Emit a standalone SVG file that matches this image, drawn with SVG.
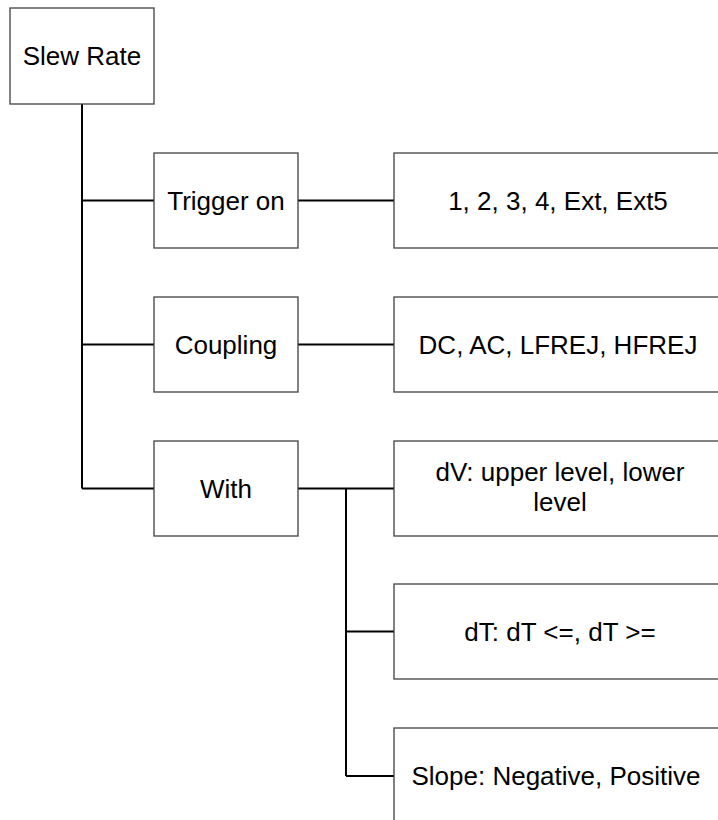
<svg xmlns="http://www.w3.org/2000/svg" width="718" height="820" viewBox="0 0 718 820">
<style>
.box{fill:#fff;stroke:#404040;stroke-width:1.3}
.t{font-family:"Liberation Sans",Arial,sans-serif;font-size:26px;fill:#000;text-anchor:middle}
.c{fill:none;stroke:#000;stroke-width:2}
</style>
<rect width="718" height="820" fill="#fff"/>
<g id="connectors">
<path class="c" d="M82,104V488.5M82,200.5H154M82,344.5H154M82,488.5H154"/>
<path class="c" d="M298,200.5H394M298,344.5H394M298,488.5H394"/>
<path class="c" d="M346,488.5V776M346,631.5H394M346,776H394"/>
</g>
<g id="slew-rate"><rect class="box" x="10" y="8" width="144" height="96"/><text class="t" x="82" y="65">Slew Rate</text></g>
<g id="trigger-on"><rect class="box" x="154" y="153" width="144" height="95"/><text class="t" x="226" y="210">Trigger on</text></g>
<g id="coupling"><rect class="box" x="154" y="297" width="144" height="95"/><text class="t" x="226" y="354">Coupling</text></g>
<g id="with"><rect class="box" x="154" y="441" width="144" height="95"/><text class="t" x="226" y="498">With</text></g>
<g id="sources"><rect class="box" x="394" y="153" width="328" height="95"/><text class="t" x="558" y="210">1, 2, 3, 4, Ext, Ext5</text></g>
<g id="coupling-opts"><rect class="box" x="394" y="297" width="328" height="95"/><text class="t" x="558" y="354">DC, AC, LFREJ, HFREJ</text></g>
<g id="dv"><rect class="box" x="394" y="441" width="328" height="95"/><text class="t" x="560" y="481">dV: upper level, lower</text><text class="t" x="560" y="511">level</text></g>
<g id="dt"><rect class="box" x="394" y="584" width="328" height="95"/><text class="t" x="560" y="641">dT: dT &lt;=, dT &gt;=</text></g>
<g id="slope"><rect class="box" x="394" y="728" width="328" height="95"/><text class="t" x="556" y="785">Slope: Negative, Positive</text></g>
</svg>
